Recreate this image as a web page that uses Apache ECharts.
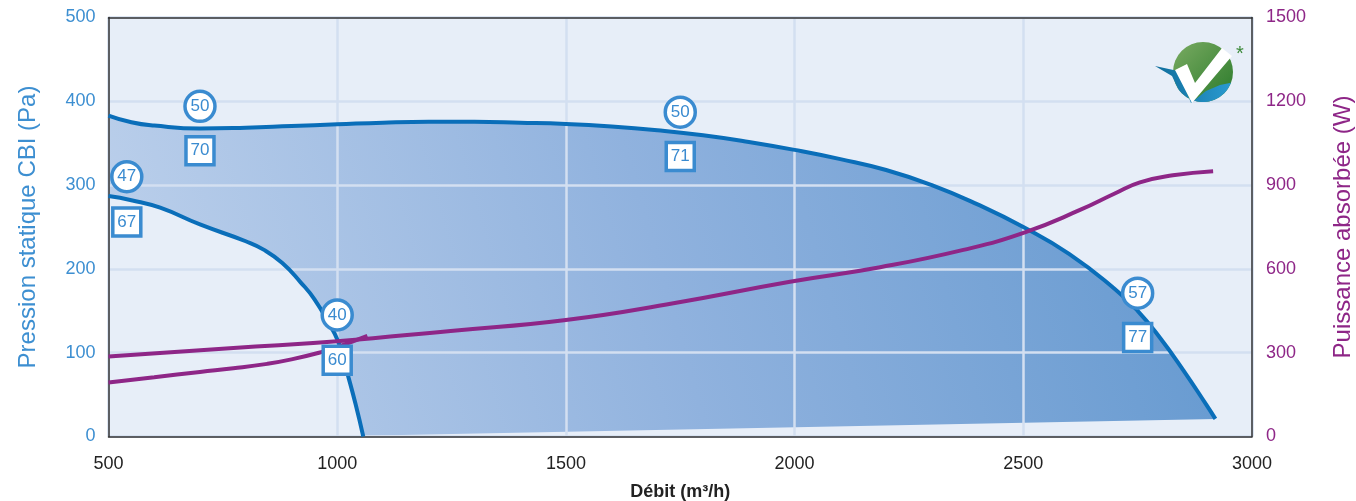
<!DOCTYPE html>
<html>
<head>
<meta charset="utf-8">
<script src="https://cdn.jsdelivr.net/npm/echarts@6/dist/echarts.min.js"></script>
<style>
html,body{margin:0;padding:0;background:#fff;}
#c{width:1356px;height:501px;}
</style>
</head>
<body>
<div id="c"></div>
<script>
// Max speed pressure curve (Pa)
const upperX = [500,550,600,700,800,900,1000,1100,1200,1300,1400,1500,1600,1700,1800,1900,2000,2100,2200,2300,2400,2500,2600,2700,2750,2800,2850,2900,2920];
const upperP = [383,375,371,367.5,368.5,370.5,372.5,374.5,375.5,375.5,374.5,373,370,365.5,359.5,351.5,342,331,318,300,277,250,218,176,150,117,79,38,21];
// Min speed pressure curve (Pa)
const lowerX = [500,550,613,700,800,839,880,920,950,985,1000,1010,1021,1040,1057];
const lowerP = [287,282,273,253,233,223,207,184,164,132,116,100,78,39,0];
// Bottom edge of working zone (Pa)
const baseX = [2920,1057];
const baseP = [21,1];
// Absorbed power, max speed (W)
const powMaxX = [500,773,1000,1248,1500,1735,1990,2187,2369,2502,2624,2700,2755,2827,2915];
const powMaxW = [286,317,341,378,417,477,554,606,668,730,811,870,910,935,950];
// Absorbed power, min speed (W)
const powMinX = [500,600,700,773,847,900,963,1000,1066];
const powMinW = [193,212,231,244,260,276,301,320,360];
// Circle markers
const circX = [700,540,1000,1750,2750];
const circY = [394,310,145,387,171];
const circT = ['50','47','40','50','57'];
// Square markers
const sqX = [700,540,1000,1750,2750];
const sqY = [341,256,91,334,118];
const sqT = ['70','67','60','71','77'];
// Axis ticks
const xTicks = [500,1000,1500,2000,2500,3000];
const yLeftTicks = [0,100,200,300,400,500];
const yRightTicks = [0,300,600,900,1200,1500];

const zip = (a,b) => a.map((v,i)=>[v,b[i]]);
const upperData = zip(upperX, upperP);
const lowerData = zip(lowerX, lowerP);
const polyPts = upperData.concat(zip(baseX, baseP)).concat(lowerData.slice().reverse());

const FONT = "'Liberation Sans', Arial, Helvetica, sans-serif";
const BLUE = '#0a6eb9';
const PURPLE = '#8e2687';
const MARK = '#3a8bd0';

// logo decoration shape (blue swoosh)
const LC = [1203, 72], LR = 30;
const bluePts = [[1155,66],[1178,71],[1191,103],[1206,91],[1220,85]];
for (let a = 21; a <= 147; a += 6) {
  const r = a * Math.PI / 180;
  bluePts.push([LC[0] + LR * Math.cos(r), LC[1] + LR * Math.sin(r)]);
}
bluePts.push([1172,76]);

const chart = echarts.init(document.getElementById('c'));
chart.setOption({
  animation: false,
  backgroundColor: '#ffffff',
  textStyle: {fontFamily: FONT},
  grid: {left: 108.5, right: 104, top: 17.5, bottom: 64.5, show: true, backgroundColor: '#e7eef8', borderWidth: 0, outerBoundsMode: 'none', containLabel: false},
  xAxis: [{
    type: 'value', min: xTicks[0], max: xTicks[xTicks.length-1], interval: 500, z: 3,
    axisLine: {show: true, onZero: false, lineStyle: {color: '#333', width: 1.5}},
    axisTick: {show: false},
    axisLabel: {color: '#222', fontSize: 18, margin: 19, fontFamily: FONT, formatter: v => String(v)},
    splitLine: {show: true, lineStyle: {color: '#d3dff1', width: 2.5}},
    name: 'Débit (m³/h)', nameLocation: 'middle', nameGap: 47,
    nameTextStyle: {color: '#222', fontSize: 18, fontWeight: 'bold', fontFamily: FONT}
  },{
    type: 'value', position: 'top', min: xTicks[0], max: xTicks[xTicks.length-1], z: 3,
    axisLine: {show: true, onZero: false, lineStyle: {color: '#333', width: 1.5}},
    axisTick: {show: false}, axisLabel: {show: false}, splitLine: {show: false}
  }],
  yAxis: [{
    type: 'value', min: yLeftTicks[0], max: yLeftTicks[yLeftTicks.length-1], interval: 100, z: 3,
    axisLine: {show: true, onZero: false, lineStyle: {color: '#333', width: 1.5}},
    axisTick: {show: false},
    axisLabel: {color: '#3d8fd1', fontSize: 18, margin: 13, fontFamily: FONT, formatter: v => String(v)},
    splitLine: {show: true, lineStyle: {color: '#d3dff1', width: 2.5}},
    name: 'Pression statique CBI (Pa)', nameLocation: 'middle', nameGap: 68,
    nameTextStyle: {color: '#3d8fd1', fontSize: 24, fontFamily: FONT}
  },{
    type: 'value', position: 'right', min: yRightTicks[0], max: yRightTicks[yRightTicks.length-1], interval: 300, z: 3,
    axisLine: {show: true, onZero: false, lineStyle: {color: '#333', width: 1.5}},
    axisTick: {show: false},
    axisLabel: {color: PURPLE, fontSize: 18, margin: 14, fontFamily: FONT, formatter: v => String(v)},
    splitLine: {show: false},
    name: 'Puissance absorbée (W)', nameLocation: 'middle', nameGap: 79,
    nameTextStyle: {color: PURPLE, fontSize: 24, fontFamily: FONT}
  }],
  series: [
    {
      type: 'custom', xAxisIndex: 0, yAxisIndex: 0, z: 1,
      data: polyPts,
      encode: {x: 0, y: 1},
      renderItem: function (params, api) {
        if (params.dataIndex !== 0) return null;
        const pts = polyPts.map(p => api.coord(p));
        return {
          type: 'polygon',
          shape: {points: pts},
          style: {
            fill: new echarts.graphic.LinearGradient(0, 1, 1, 0, [
              {offset: 0, color: '#bfd2ec'},
              {offset: 0.5, color: '#90b2de'},
              {offset: 1, color: '#6398cf'}
            ])
          }
        };
      }
    },
    {type: 'line', data: upperData, smooth: 0.5, showSymbol: false, z: 4,
     lineStyle: {color: BLUE, width: 4}},
    {type: 'line', data: lowerData, smooth: 0.5, showSymbol: false, z: 4,
     lineStyle: {color: BLUE, width: 4}},
    {type: 'line', yAxisIndex: 1, data: zip(powMaxX, powMaxW), smooth: 0.5, showSymbol: false, z: 5,
     lineStyle: {color: PURPLE, width: 4}},
    {type: 'line', yAxisIndex: 1, data: zip(powMinX, powMinW), smooth: 0.5, showSymbol: false, z: 5,
     lineStyle: {color: PURPLE, width: 4}},
    {type: 'scatter', z: 6, symbol: 'circle', symbolSize: 30,
     data: circX.map((x,i)=>[x, circY[i], circT[i]]),
     itemStyle: {color: '#fff', borderColor: MARK, borderWidth: 3.5, opacity: 1},
     label: {show: true, position: 'inside', formatter: p => p.value[2], color: MARK, fontSize: 17, fontFamily: FONT}},
    {type: 'scatter', z: 6, symbol: 'rect', symbolSize: 28,
     data: sqX.map((x,i)=>[x, sqY[i], sqT[i]]),
     itemStyle: {color: '#fff', borderColor: MARK, borderWidth: 3.5, opacity: 1},
     label: {show: true, position: 'inside', formatter: p => p.value[2], color: MARK, fontSize: 17, fontFamily: FONT}}
  ],
  graphic: [
    {type: 'circle', z: 10, shape: {cx: LC[0], cy: LC[1], r: LR},
     style: {fill: new echarts.graphic.LinearGradient(0, 0, 1, 1, [{offset: 0, color: '#7aab62'}, {offset: 1, color: '#2a7a2a'}])}},
    {type: 'polygon', z: 11, shape: {points: bluePts},
     style: {fill: new echarts.graphic.LinearGradient(0, 0, 1, 0, [{offset: 0, color: '#0f6d9c'}, {offset: 1, color: '#2a9ad0'}])}},
    {type: 'polygon', z: 12,
     shape: {points: [[1175,70],[1187,64],[1195,83],[1222,48],[1232,56],[1192,103]]},
     style: {fill: '#ffffff'}},
    {type: 'text', z: 12, x: 1236, y: 44, style: {text: '*', fill: '#3c8a3a', fontSize: 20, fontFamily: FONT}}
  ]
});
</script>
</body>
</html>
